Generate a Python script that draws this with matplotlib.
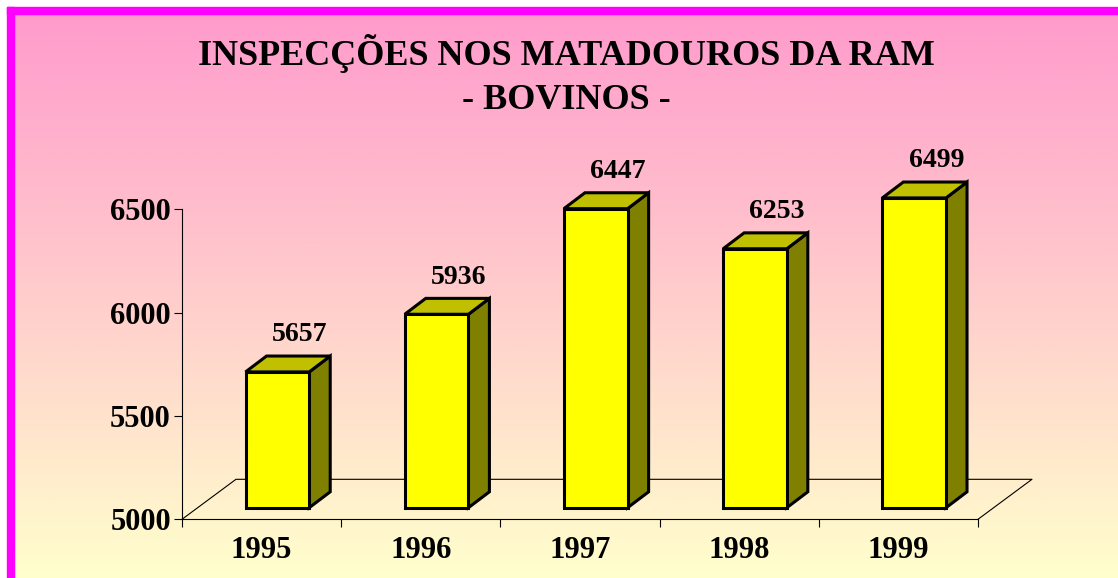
import numpy as np
import matplotlib
matplotlib.use("Agg")
import matplotlib.pyplot as plt
from matplotlib.patches import Polygon, Rectangle

# ================= DATA =================
years = ["1995", "1996", "1997", "1998", "1999"]
bovinos = [5657, 5936, 6447, 6253, 6499]
y_ticks = [5000, 5500, 6000, 6500]
TITLE = "INSPECÇÕES NOS MATADOUROS DA RAM\n- BOVINOS -"
# ========================================

plt.rcParams["font.family"] = ["Liberation Serif", "DejaVu Serif"]
plt.rcParams["font.weight"] = "bold"

W, H, DPI = 1118, 578, 100
fig = plt.figure(figsize=(W / DPI, H / DPI), dpi=DPI)

# ---------- background gradient + border ----------
bg = fig.add_axes([0, 0, 1, 1], zorder=-10)
top = np.array([255, 153, 204]) / 255
bot = np.array([255, 255, 204]) / 255
t = np.linspace(0, 1, 256)[:, None]
grad = (top * (1 - t) + bot * t)[:, None, :]
bg.imshow(grad, aspect="auto", extent=[0, 1, 0, 1], origin="upper")
bg.set_xlim(0, 1)
bg.set_ylim(0, 1)
bg.axis("off")
# white margin outside the frame
bg.add_patch(Rectangle((0, 1 - 7 / H), 1, 7 / H, color="white", zorder=2))
bg.add_patch(Rectangle((0, 0), 7 / W, 1, color="white", zorder=2))
# magenta frame (top and left visible)
bg.add_patch(Rectangle((7 / W, 1 - 14 / H), 1, 7 / H, color="#FF00FF", zorder=3))
bg.add_patch(Rectangle((7 / W, 0), 7 / W, 1 - 7 / H, color="#FF00FF", zorder=3))

fig.text(0.507, 0.869, TITLE, ha="center", va="center", fontsize=26,
         fontweight="bold", linespacing=1.45)

# ---------- main axes ----------
ax = fig.add_axes([182 / W, (H - 519.3) / H, (978 - 182) / W, 310 / H])
ax.set_facecolor("none")
ax.set_xlim(0, len(years))
ax.set_ylim(5000, 6500)

# depth offsets (in data units)
floor_dx, floor_dy = 0.339, 193.5
plane_dx, plane_dy = 0.099, 56
bar_dx, bar_dy = 0.132, 77
bar_w = 0.40

# floor outline
ax.plot([0, floor_dx, len(years) + floor_dx, len(years)],
        [5000, 5000 + floor_dy, 5000 + floor_dy, 5000],
        color="black", lw=0.8, clip_on=False, zorder=1)

for i, v in enumerate(bovinos):
    x0 = i + 0.5 - bar_w / 2 + plane_dx
    x1 = x0 + bar_w
    b = 5000 + plane_dy
    tp = v + plane_dy
    front = Polygon([(x0, b), (x1, b), (x1, tp), (x0, tp)], closed=True,
                    facecolor="#FFFF00", edgecolor="black", lw=2.2,
                    joinstyle="miter", clip_on=False, zorder=3)
    topf = Polygon([(x0, tp), (x1, tp), (x1 + bar_dx, tp + bar_dy),
                    (x0 + bar_dx, tp + bar_dy)], closed=True,
                   facecolor="#C0C000", edgecolor="black", lw=2.2,
                   joinstyle="miter", clip_on=False, zorder=3)
    side = Polygon([(x1, b), (x1, tp), (x1 + bar_dx, tp + bar_dy),
                    (x1 + bar_dx, b + bar_dy)], closed=True,
                   facecolor="#808000", edgecolor="black", lw=2.2,
                   joinstyle="miter", clip_on=False, zorder=3)
    for p in (side, topf, front):
        ax.add_patch(p)
    ax.text(i + 0.5 + plane_dx + 0.14, tp + 180, str(v), ha="center",
            va="center", fontsize=20, fontweight="bold", zorder=4)

ax.set_yticks(y_ticks)
ax.set_yticklabels([str(y) for y in y_ticks])
ax.set_xticks(range(len(years) + 1))
ax.set_xticklabels([])
ax.set_xticks([i + 0.5 for i in range(len(years))], minor=True)
ax.set_xticklabels(years, minor=True)
ax.tick_params(axis="x", which="minor", length=0, pad=12, labelsize=22)
ax.tick_params(axis="x", which="major", length=6, width=0.8, direction="out")
ax.tick_params(axis="y", length=6, width=0.8, pad=2, labelsize=22)
for lab in ax.get_xticklabels(minor=True) + ax.get_yticklabels():
    lab.set_fontweight("bold")

ax.spines["top"].set_visible(False)
ax.spines["right"].set_visible(False)
ax.spines["left"].set_linewidth(0.8)
ax.spines["bottom"].set_linewidth(0.8)

fig.savefig("out.png", dpi=DPI)
